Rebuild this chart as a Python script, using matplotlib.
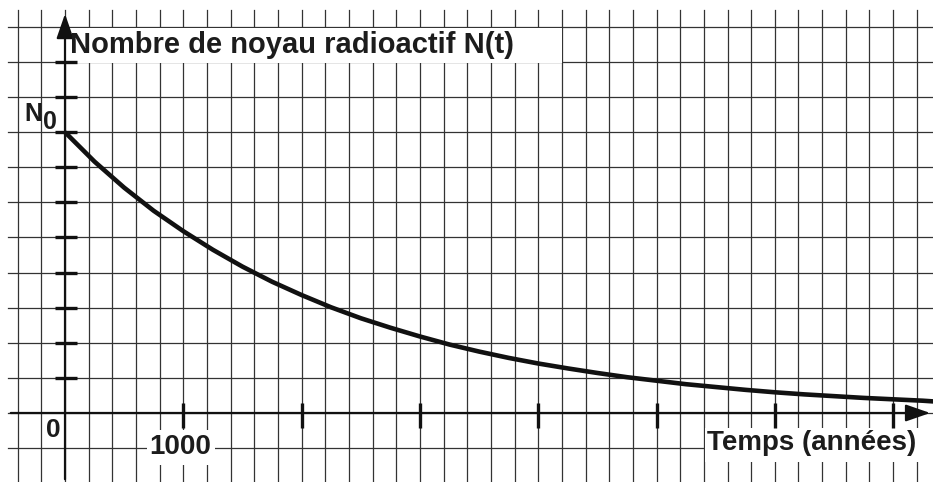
import matplotlib.pyplot as plt
from matplotlib.patches import Rectangle

plt.rcParams["font.family"] = ["Liberation Sans", "DejaVu Sans"]

# values: time (years) and N(t) in grid squares (N0 = 8 squares)
t_years = [0, 250, 500, 750, 1000, 1250, 1500, 1750, 2000, 2250, 2500, 2750,
           3000, 3250, 3500, 3750, 4000, 4250, 4500, 4750, 5000, 5250, 5500,
           5750, 6000, 6250, 6500, 6750, 7000, 7250, 7340]
n_squares = [8.0, 7.16, 6.42, 5.76, 5.18, 4.65, 4.17, 3.74, 3.36, 3.01, 2.70, 2.43,
             2.18, 1.95, 1.75, 1.57, 1.41, 1.27, 1.14, 1.02, 0.92, 0.82, 0.74,
             0.66, 0.59, 0.53, 0.48, 0.43, 0.39, 0.35, 0.33]
x_ticks = [1000, 2000, 3000, 4000, 5000, 6000, 7000]
y_ticks = [1, 2, 3, 4, 5, 6, 7, 8, 9, 10]
n0_level = 8

fig = plt.figure(figsize=(9.33, 4.82), dpi=100)
ax = fig.add_axes([0, 0, 1, 1])
xmin, xmax = -549.5, 7337
ymin, ymax = -1.966, 11.766
ax.set_xlim(xmin, xmax)
ax.set_ylim(ymin, ymax)
ax.axis("off")

ink = "#111111"
grid_c = "#333333"

# squared paper
for gx in range(-400, 7201, 200):
    ax.plot([gx, gx], [ymin, 11.49], color=grid_c, lw=0.9, zorder=1)
for gy in range(-1, 12):
    ax.plot([-482, xmax], [gy, gy], color=grid_c, lw=0.9, zorder=1)

# white boxes behind labels
ax.add_patch(Rectangle((8, 9.97), 4193, 0.99, facecolor="white", edgecolor="none", zorder=2))
ax.add_patch(Rectangle((696, -1.48), 572, 1.0, facecolor="white", edgecolor="none", zorder=2))
ax.add_patch(Rectangle((5410, -1.40), 1930, 0.97, facecolor="white", edgecolor="none", zorder=2))

# axes with arrows
ax.annotate("", xy=(0, 11.45), xytext=(0, ymin),
            arrowprops=dict(arrowstyle="-|>,head_length=0.75,head_width=0.26",
                            lw=1.6, color=ink, mutation_scale=20), zorder=4)
ax.annotate("", xy=(xmax, 0), xytext=(-482, 0),
            arrowprops=dict(arrowstyle="-|>,head_length=0.75,head_width=0.26",
                            lw=1.6, color=ink, mutation_scale=20), zorder=4)

# tick marks
for tx in x_ticks:
    ax.plot([tx, tx], [-0.427, 0.285], color=ink, lw=2.4, zorder=4, solid_capstyle="butt")
for ty in y_ticks:
    ax.plot([-85, 101], [ty, ty], color=ink, lw=2.4, zorder=4, solid_capstyle="butt")

# decay curve
ax.plot(t_years, n_squares, color=ink, lw=3.3, zorder=5, solid_capstyle="butt")

# labels
txt = dict(fontweight="bold", color="#1c1c1c", zorder=6)
ax.text(42, 10.48, "Nombre de noyau radioactif N(t)", fontsize=21, ha="left", va="center", **txt)
ax.text(-266, n0_level + 0.52, "N", fontsize=18, ha="center", va="center", **txt)
ax.text(-127, n0_level + 0.29, "0", fontsize=18, ha="center", va="center", **txt)
ax.text(-97, -0.48, "0", fontsize=19, ha="center", va="center", **txt)
ax.text(972, -0.97, "1000", fontsize=20, ha="center", va="center", **txt)
ax.text(5427, -0.855, "Temps (années)", fontsize=20, ha="left", va="center", **txt)

fig.savefig("out.png", dpi=100)
